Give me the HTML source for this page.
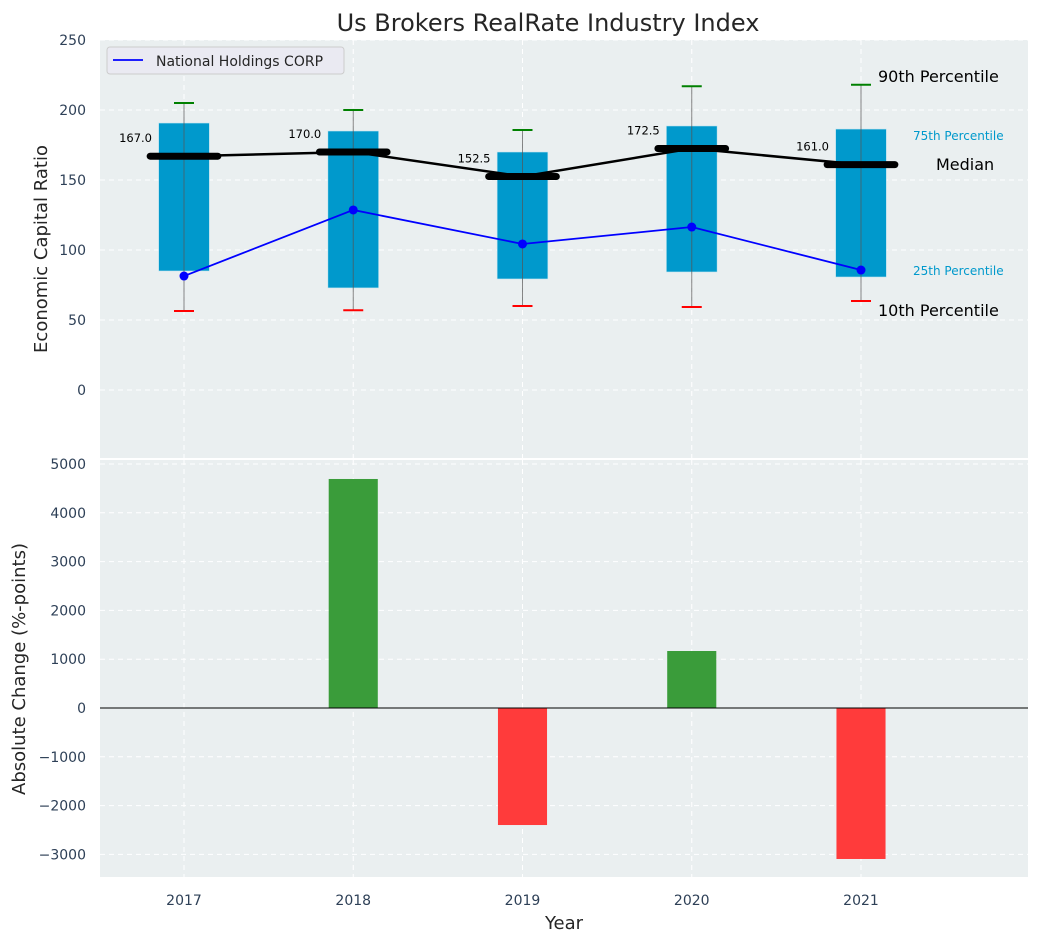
<!DOCTYPE html>
<html><head><meta charset="utf-8"><style>
body{margin:0;background:#fff;font-family:"Liberation Sans","DejaVu Sans",sans-serif}
svg text{font-family:"DejaVu Sans","Liberation Sans",sans-serif}
</style></head><body>
<svg id="c" width="1039" height="942" xmlns="http://www.w3.org/2000/svg"></svg>
<script>
const years=[2017,2018,2019,2020,2021];
const p10=[56.4,57,60,59.3,63.6];
const p25=[85,72.9,79.3,84.3,80.7];
const med=[167,170,152.5,172.5,161];
const p75=[190.7,185,170,188.6,186.4];
const p90=[205,200,185.7,217,218];
const company=[81.4,128.6,104.3,116.4,85.7];
const change=[0,4693,-2398,1168,-3094];
const topTicks=[0,50,100,150,200,250];
const botTicks=[-3000,-2000,-1000,0,1000,2000,3000,4000,5000];

const NS="http://www.w3.org/2000/svg";
const svg=document.getElementById('c');
function el(t,a,p){const e=document.createElementNS(NS,t);for(const k in a)e.setAttribute(k,a[k]);(p||svg).appendChild(e);return e;}
const L=100,R=1028;
const x=v=>184+(v-2017)*169.25;
const yT=v=>390-v*1.4;
const yB=v=>708-v*0.0488;
const AX="#2e4057";

let t=el('text',{x:548,y:31,'text-anchor':'middle','font-size':24,fill:'#262626'});t.textContent='Us Brokers RealRate Industry Index';


let g=el('g',{});
el('rect',{x:L,y:40,width:R-L,height:418,fill:'#eaeff0'},g);
topTicks.forEach(v=>{el('line',{x1:L,x2:R,y1:yT(v),y2:yT(v),stroke:'#fff','stroke-dasharray':'5,4','stroke-width':1},g);
 let tt=el('text',{x:86,y:yT(v)+5,'text-anchor':'end','font-size':14,fill:AX},g);tt.textContent=v;
 });
years.forEach(v=>el('line',{x1:x(v),x2:x(v),y1:40,y2:458,stroke:'#fff','stroke-dasharray':'5,4'},g));
years.forEach((yr,i)=>{
 const cx=x(yr),hw=(x(yr+0.15)-x(yr));
 let b=el('rect',{x:cx-hw,y:yT(p75[i]),width:2*hw,height:yT(p25[i])-yT(p75[i]),fill:'#0099cc',stroke:'#c6e6f0','stroke-width':0.6},g);
 
 el('line',{x1:cx,x2:cx,y1:yT(p90[i]),y2:yT(p10[i]),stroke:'#555','stroke-width':1,opacity:0.7},g);
 el('line',{x1:cx-10,x2:cx+10,y1:yT(p90[i]),y2:yT(p90[i]),stroke:'green','stroke-width':2},g);
 el('line',{x1:cx-10,x2:cx+10,y1:yT(p10[i]),y2:yT(p10[i]),stroke:'red','stroke-width':2},g);
});
let mp=years.map((yr,i)=>x(yr)+','+yT(med[i])).join(' ');
el('polyline',{points:mp,fill:'none',stroke:'#000','stroke-width':2.5},g);
years.forEach((yr,i)=>{const cx=x(yr),hw=x(yr+0.2)-x(yr);
 let m=el('line',{x1:cx-hw,x2:cx+hw,y1:yT(med[i]),y2:yT(med[i]),stroke:'#000','stroke-width':7,'stroke-linecap':'round'},g);
 
 let lt=el('text',{x:cx-32,y:yT(med[i])-14,'text-anchor':'end','font-size':11.5,fill:'#000'},g);lt.textContent=med[i].toFixed(1);
 });
el('polyline',{points:years.map((yr,i)=>x(yr)+','+yT(company[i])).join(' '),fill:'none',stroke:'#0000ff','stroke-width':1.8},g);
years.forEach((yr,i)=>{let c=el('circle',{cx:x(yr),cy:yT(company[i]),r:4.5,fill:'#0000ff'},g);
 });
[['90th Percentile',878,82,16,'#000'],['75th Percentile',913,140,12,'#0099cc'],['Median',936,170,16,'#000'],['25th Percentile',913,275,12,'#0099cc'],['10th Percentile',878,316,16,'#000']].forEach(a=>{
 let tt=el('text',{x:a[1],y:a[2],'font-size':a[3],fill:a[4]},g);tt.textContent=a[0];
 });
let lg=el('g',{});
el('rect',{x:107,y:47,width:237,height:27,rx:3,fill:'#eaeaf2',stroke:'#ccc'},lg);
el('line',{x1:113,x2:143,y1:60,y2:60,stroke:'#0000ff','stroke-width':1.8},lg);
let lt=el('text',{x:156,y:66,'font-size':14,fill:'#262626'},lg);lt.textContent='National Holdings CORP';
let yl=el('text',{x:47,y:249,'text-anchor':'middle','font-size':18,fill:'#262626',transform:'rotate(-90 47 249)'});yl.textContent='Economic Capital Ratio';


let g2=el('g',{});
el('rect',{x:L,y:460,width:R-L,height:417,fill:'#eaeff0'},g2);
botTicks.forEach(v=>{el('line',{x1:L,x2:R,y1:yB(v),y2:yB(v),stroke:'#fff','stroke-dasharray':'5,4'},g2);
 let tt=el('text',{x:86,y:yB(v)+5,'text-anchor':'end','font-size':14,fill:AX},g2);tt.textContent=v<0?'\u2212'+(-v):v;
 });
years.forEach(v=>{el('line',{x1:x(v),x2:x(v),y1:460,y2:877,stroke:'#fff','stroke-dasharray':'5,4'},g2);
 let tt=el('text',{x:x(v),y:905,'text-anchor':'middle','font-size':14,fill:AX});tt.textContent=v;
 });
years.forEach((yr,i)=>{const v=change[i];if(!v)return;const hw=x(yr+0.145)-x(yr);
 let b=el('rect',{x:x(yr)-hw,y:Math.min(yB(v),yB(0)),width:2*hw,height:Math.abs(yB(v)-yB(0)),fill:v>0?'#3a9c3a':'#ff3b3b'},g2);
 });
el('line',{x1:L,x2:R,y1:yB(0),y2:yB(0),stroke:'#000','stroke-width':1},g2);
let xl=el('text',{x:564,y:929,'text-anchor':'middle','font-size':18,fill:'#262626'});xl.textContent='Year';

let yl2=el('text',{x:25,y:669,'text-anchor':'middle','font-size':18,fill:'#262626',transform:'rotate(-90 25 669)'});yl2.textContent='Absolute Change (%-points)';

</script>
</body></html>
